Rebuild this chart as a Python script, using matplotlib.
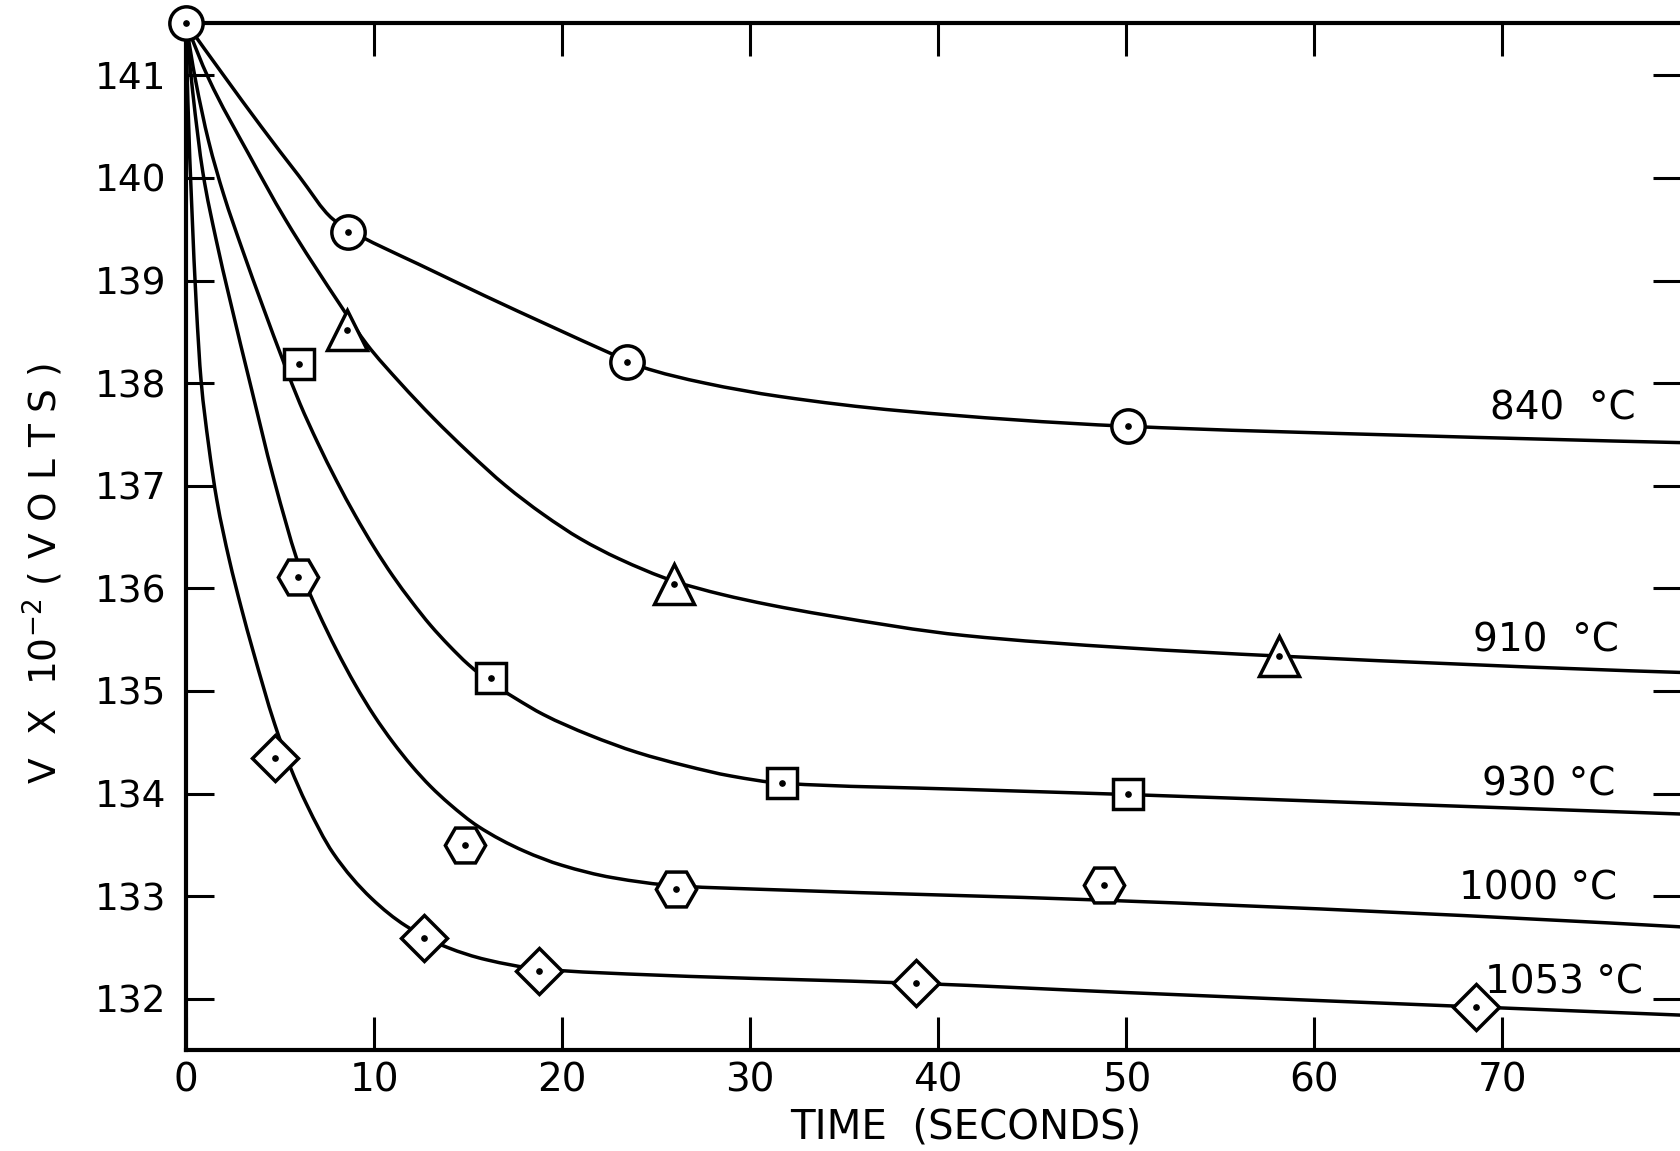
import matplotlib
matplotlib.use("Agg")
import matplotlib.pyplot as plt
from matplotlib.path import Path
from matplotlib.patches import PathPatch
import numpy as np

# ---------------- data ----------------
labels = ["840  °C", "910  °C", "930 °C", "1000 °C", "1053 °C"]

# measured points (markers)
pts_840_t = [0, 8.6, 23.46, 50.1]
pts_840_v = [141.51, 139.47, 138.21, 137.58]
pts_910_t = [8.57, 25.94, 58.1]
pts_910_v = [138.52, 136.04, 135.34]
pts_930_t = [6.03, 16.23, 31.7, 50.1]
pts_930_v = [138.19, 135.13, 134.10, 134.00]
pts_1000_t = [5.93, 14.82, 26.08, 48.8]
pts_1000_v = [136.11, 133.50, 133.07, 133.11]
pts_1053_t = [4.71, 12.68, 18.75, 38.8, 68.6]
pts_1053_v = [134.35, 132.59, 132.27, 132.15, 131.92]

# hand-drawn curves
crv_840_t = [0, 2.0, 4.0, 6.0, 7.8, 9.4, 10.5, 12.36, 15.9, 19.45, 22.7, 24.2,
             27.6, 31.57, 38.0, 50.0, 65.0, 79.5]
crv_840_v = [141.51, 141.00, 140.50, 140.02, 139.60, 139.42, 139.32, 139.16,
             138.85, 138.55, 138.28, 138.16, 138.00, 137.87, 137.73, 137.58,
             137.49, 137.42]
crv_910_t = [0, 1.2, 3.31, 5.27, 8.28, 9.61, 11.4, 13.15, 15.0, 17.0, 19.0,
             21.0, 23.0, 25.94, 28.5, 31.0, 34.0, 41.4, 50.0, 58.1, 79.5]
crv_910_v = [141.51, 140.97, 140.24, 139.60, 138.74, 138.38, 138.00, 137.66,
             137.33, 137.00, 136.72, 136.48, 136.29, 136.07, 135.94, 135.84,
             135.74, 135.54, 135.42, 135.34, 135.18]
crv_930_t = [0, 0.5, 1.2, 2.0, 3.0, 4.1, 5.2, 6.06, 7.0, 8.0, 9.0, 10.0, 11.0,
             12.0, 13.0, 14.0, 15.0, 16.23, 17.5, 19.0, 21.45, 24.0, 26.58,
             29.0, 31.7, 41.4, 50.1, 64.0, 79.5]
crv_930_v = [141.51, 140.96, 140.36, 139.84, 139.30, 138.74, 138.20, 137.80,
             137.42, 137.05, 136.71, 136.40, 136.12, 135.87, 135.64, 135.44,
             135.26, 135.08, 134.93, 134.77, 134.57, 134.40, 134.27, 134.17,
             134.10, 134.04, 133.99, 133.90, 133.80]
crv_1000_t = [0, 0.35, 0.9, 1.6, 2.3, 3.5, 4.62, 6.2, 7.0, 8.0, 9.0, 10.0, 11.0,
              12.0, 13.0, 14.0, 15.53, 17.97, 20.0, 22.68, 26.08, 31.6, 48.8,
              79.5]
crv_1000_v = [141.51, 140.85, 140.05, 139.40, 138.84, 137.93, 137.10, 136.12,
              135.78, 135.40, 135.06, 134.76, 134.50, 134.27, 134.07, 133.90,
              133.68, 133.44, 133.30, 133.18, 133.10, 133.06, 132.96, 132.70]
crv_1053_t = [0, 0.1, 0.3, 0.55, 0.8, 1.2, 1.64, 2.3, 2.94, 3.55, 4.71, 5.56,
              6.4, 7.82, 9.85, 11.69, 13.9, 15.97, 18.75, 25.0, 38.8, 50.0,
              68.6, 79.5]
crv_1053_v = [141.51, 140.75, 139.75, 138.75, 138.03, 137.40, 136.86, 136.28,
              135.81, 135.40, 134.68, 134.25, 133.90, 133.42, 132.98, 132.71,
              132.50, 132.38, 132.29, 132.23, 132.15, 132.06, 131.92, 131.84]

x_ticks = [0, 10, 20, 30, 40, 50, 60, 70]
y_ticks = [132, 133, 134, 135, 136, 137, 138, 139, 140, 141]

series = [
    (pts_840_t, pts_840_v, crv_840_t, crv_840_v),
    (pts_910_t, pts_910_v, crv_910_t, crv_910_v),
    (pts_930_t, pts_930_v, crv_930_t, crv_930_v),
    (pts_1000_t, pts_1000_v, crv_1000_t, crv_1000_v),
    (pts_1053_t, pts_1053_v, crv_1053_t, crv_1053_v),
]

# ---------------- style / layout ----------------
markers = [("o", 24), ("^", 29), ("s", 21), ("H", 29), ("D", 23)]
label_pos = [(77.1, 137.75), (76.2, 135.49), (76.0, 134.09), (76.1, 133.07), (77.5, 132.16)]

plt.rcParams["font.family"] = ["DejaVu Sans"]
plt.rcParams["mathtext.fontset"] = "dejavusans"

fig = plt.figure(figsize=(16.81, 11.51), dpi=100)
ax = fig.add_axes([186 / 1681, 1 - 1050 / 1151, 1495 / 1681, (1050 - 23) / 1151])
ax.set_xlim(0, 79.5)
ax.set_ylim(131.5, 141.51)


def pen_stroke(t, v):
    """Smooth (shape-preserving) Bezier pen stroke through the read points."""
    t = np.asarray(t, float)
    v = np.asarray(v, float)
    h = np.diff(t)
    d = np.diff(v) / h
    n = len(t)
    m = np.zeros(n)
    for k in range(1, n - 1):
        if d[k - 1] * d[k] > 0:
            w1 = 2 * h[k] + h[k - 1]
            w2 = h[k] + 2 * h[k - 1]
            m[k] = (w1 + w2) / (w1 / d[k - 1] + w2 / d[k])
    for k, (h0, h1, d0, d1) in ((0, (h[0], h[1], d[0], d[1])),
                                (n - 1, (h[-1], h[-2], d[-1], d[-2]))):
        e = ((2 * h0 + h1) * d0 - h0 * d1) / (h0 + h1)
        if e * d0 <= 0:
            e = 0.0
        elif d0 * d1 <= 0 and abs(e) > abs(3 * d0):
            e = 3 * d0
        m[k] = e
    verts = [(t[0], v[0])]
    codes = [Path.MOVETO]
    for k in range(n - 1):
        s = h[k] / 3.0
        verts += [(t[k] + s, v[k] + m[k] * s),
                  (t[k + 1] - s, v[k + 1] - m[k + 1] * s),
                  (t[k + 1], v[k + 1])]
        codes += [Path.CURVE4] * 3
    return Path(verts, codes)


lw = 2.5
for (pt, pv, ct, cv), (mk, ms) in zip(series, markers):
    ax.add_patch(PathPatch(pen_stroke(ct, cv), facecolor="none",
                           edgecolor="black", lw=lw, capstyle="round",
                           joinstyle="round", zorder=2))
    ax.plot(pt, pv, linestyle="none", marker=mk, markersize=ms,
            markerfacecolor="white", markeredgecolor="black",
            markeredgewidth=2.5, zorder=4, clip_on=False)
    ax.plot(pt, pv, linestyle="none", marker="o", markersize=3.8,
            color="black", zorder=5, clip_on=False)

for lab, (lx, ly) in zip(labels, label_pos):
    ax.text(lx, ly, lab, ha="right", va="center", fontsize=28, color="black")

for side in ["left", "top", "bottom"]:
    ax.spines[side].set_linewidth(3.0)
ax.spines["right"].set_visible(False)

ax.set_xticks(x_ticks)
ax.set_xticklabels([str(v) for v in x_ticks])
ax.set_yticks(y_ticks)
ax.set_yticklabels([str(v) for v in y_ticks])
ax.tick_params(axis="x", which="both", direction="in", length=24, width=2.2,
               top=True, bottom=True, labelsize=28, pad=8)
ax.tick_params(axis="y", which="both", direction="in", length=20, width=2.2,
               left=True, right=True, labelsize=27, pad=14)

fig.text(966 / 1681, 1 - 1128 / 1151, "TIME  (SECONDS)", ha="center",
         va="center", fontsize=29)
fig.text(43 / 1681, 1 - 573 / 1151, "V  X  10$^{-2}$ ( V O L T S )",
         ha="center", va="center", rotation=90, fontsize=27)

fig.savefig("out.png", dpi=100, facecolor="white")
